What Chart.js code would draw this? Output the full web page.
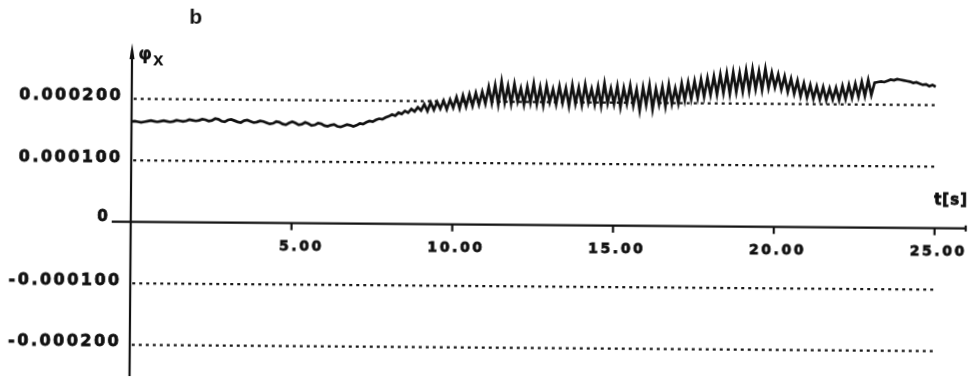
<!DOCTYPE html>
<html>
<head>
<meta charset="utf-8">
<script src="https://cdn.jsdelivr.net/npm/chart.js@4.4.0/dist/chart.umd.min.js"></script>
<style>
  html, body { margin: 0; padding: 0; background: #fff; overflow: hidden; }
  #wrap { width: 973px; height: 379px; }
  /* the scanned figure is tilted a little clockwise */
  #c { display: block; transform: rotate(0.45deg); transform-origin: 486px 190px; }
</style>
</head>
<body>
<div id="wrap"><canvas id="c" width="973" height="379"></canvas></div>
<script>
// phi_x, unit 1e-6, one sample every 0.1 s starting at t = 0
const sampleStep = 0.1;
const phiX = [
  163,164,163,162,163,164,165,164,163,164,165,164,163,164,166,165,164,165,167,166,165,
  166,168,167,165,166,169,168,165,164,167,168,166,164,163,166,167,165,163,164,166,
  165,163,161,162,165,164,161,160,163,165,163,160,161,164,162,159,160,163,162,159,
  158,160,161,158,157,159,161,160,158,160,
  163,162,165,167,166,169,171,170,173,175,
  178,176,181,179,184,181,187,183,190,185,
  195,184,198,186,199,188,201,187,203,190,
  207,189,210,192,212,193,214,195,216,197,
  224,198,227,196,233,199,226,197,229,201,
  222,196,225,199,230,197,224,195,227,200,
  221,197,226,199,223,194,228,198,224,196,
  229,200,222,197,226,195,231,199,223,198,
  227,193,224,199,228,196,222,188,225,197,
  229,190,223,198,226,195,230,199,224,200,
  232,205,234,207,236,209,239,211,241,214,
  244,215,247,217,249,216,251,219,250,220,
  254,221,256,224,253,223,257,226,251,227,
  248,224,245,220,241,217,238,213,234,211,
  231,209,229,208,228,207,226,208,227,207,
  230,209,232,211,234,213,237,214,240,216,
  236,237,238,237,239,241,240,242,241,240,
  239,238,236,237,235,233,234,231,233,230
];

const xTicks = [5, 10, 15, 20, 25];
const xTickLabels = ['5.00', '10.00', '15.00', '20.00', '25.00'];
const yTicks = [0.0002, 0.0001, 0, -0.0001, -0.0002];
const yTickLabels = ['0.000200', '0.000100', '0', '-0.000100', '-0.000200'];

const points = phiX.map((v, i) => ({ x: +(i * sampleStep).toFixed(1), y: v * 1e-6 }));

// plotter style text: spaced out and heavy
function plotText(ctx, text, x, y, align, font, spacing, heavy) {
  ctx.save();
  ctx.font = font;
  ctx.textAlign = align;
  ctx.textBaseline = 'alphabetic';
  ctx.fillStyle = '#111';
  ctx.strokeStyle = '#111';
  ctx.lineWidth = 0.8;
  let dx = 0;
  if (spacing && 'letterSpacing' in ctx) {
    ctx.letterSpacing = spacing + 'px';
    if (align === 'right') dx = spacing;
    if (align === 'center') dx = spacing / 2;
  }
  ctx.fillText(text, x + dx, y);
  if (heavy) ctx.strokeText(text, x + dx, y);
  ctx.restore();
}

const axesPlugin = {
  id: 'plotterAxes',
  beforeDatasetsDraw(chart) {
    const ctx = chart.ctx;
    const xs = chart.scales.x, ys = chart.scales.y;
    ctx.save();
    ctx.strokeStyle = '#1a1a1a';
    ctx.lineWidth = 2.2;
    ctx.setLineDash([3, 4]);
    yTicks.forEach(v => {
      if (v === 0) return;
      const py = ys.getPixelForValue(v);
      ctx.beginPath();
      ctx.moveTo(xs.left + 2, py);
      ctx.lineTo(xs.getPixelForValue(25), py);
      ctx.stroke();
    });
    ctx.restore();
  },
  afterDatasetsDraw(chart) {
    const ctx = chart.ctx;
    const xs = chart.scales.x, ys = chart.scales.y;
    const x0 = xs.left, y0 = ys.getPixelForValue(0);
    const yFont = 'bold 16px "DejaVu Sans"';
    const xFont = 'bold 14px "DejaVu Sans"';
    ctx.save();
    ctx.strokeStyle = '#111';
    ctx.fillStyle = '#111';
    ctx.lineWidth = 2.2;

    // vertical axis with arrow
    ctx.beginPath();
    ctx.moveTo(x0, ys.bottom);
    ctx.lineTo(x0, ys.top + 6);
    ctx.stroke();
    ctx.beginPath();
    ctx.moveTo(x0, ys.top - 1);
    ctx.lineTo(x0 - 2.5, ys.top + 15);
    ctx.lineTo(x0 + 2.5, ys.top + 15);
    ctx.closePath();
    ctx.fill();

    // horizontal axis
    ctx.beginPath();
    ctx.moveTo(x0 - 19, y0);
    ctx.lineTo(xs.right, y0);
    ctx.stroke();
    ctx.beginPath();
    ctx.moveTo(xs.right - 1, y0 - 3);
    ctx.lineTo(xs.right - 1, y0 + 3);
    ctx.stroke();

    xTicks.forEach((v, i) => {
      const px = xs.getPixelForValue(v);
      ctx.beginPath();
      ctx.moveTo(px, y0);
      ctx.lineTo(px, y0 + 7);
      ctx.stroke();
      plotText(ctx, xTickLabels[i], px + 30, y0 + 27, 'right', xFont, 2.6, true);
    });

    yTicks.forEach((v, i) => {
      const py = ys.getPixelForValue(v);
      if (v === 0) {
        plotText(ctx, yTickLabels[i], x0 - 23, py - 0.5, 'right', 'bold 15px "DejaVu Sans"', 0, true);
      } else {
        plotText(ctx, yTickLabels[i], x0 - 11, py + 1.5, 'right', yFont, 2.5, true);
      }
    });

    plotText(ctx, 't[s]', xs.right, y0 - 24, 'right', 'bold 15px "DejaVu Sans"', 1, true);
    plotText(ctx, '\u03c6', x0 + 6, 62, 'left', 'bold 18px "DejaVu Sans"', 0, false);
    plotText(ctx, 'x', x0 + 21, 68, 'left', 'bold 19px "Liberation Sans"', 0, false);
    plotText(ctx, 'b', 188, 25.5, 'left', 'bold 21px "Liberation Sans"', 0, false);
    ctx.restore();
  }
};

new Chart(document.getElementById('c').getContext('2d'), {
  type: 'line',
  data: {
    datasets: [{
      data: points,
      borderColor: '#111',
      borderWidth: 2.7,
      pointRadius: 0,
      tension: 0,
      fill: false
    }]
  },
  options: {
    responsive: false,
    animation: false,
    layout: { padding: { left: 131, right: 6, top: 47, bottom: 0 } },
    scales: {
      x: { type: 'linear', min: 0, max: 26, display: false },
      y: { min: -0.000251, max: 0.000289, display: false }
    },
    plugins: { legend: { display: false }, tooltip: { enabled: false } }
  },
  plugins: [axesPlugin]
});
</script>
</body>
</html>
